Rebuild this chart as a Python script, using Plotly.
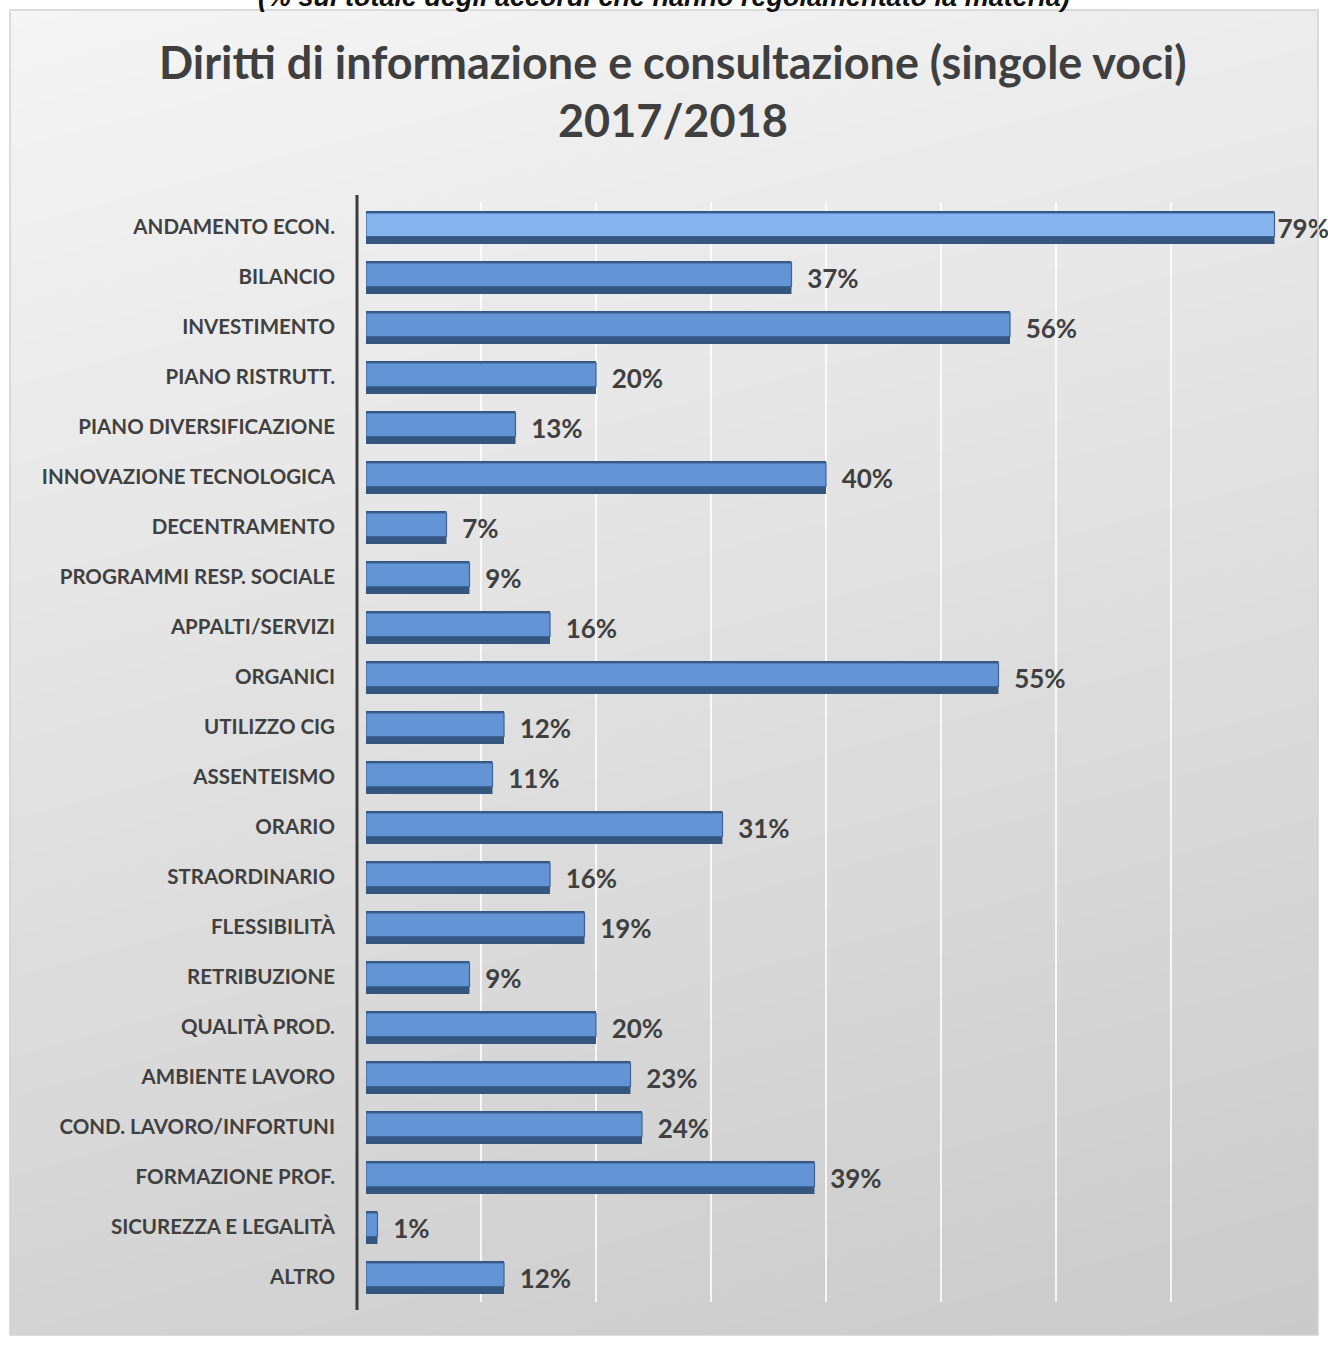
import plotly.graph_objects as go

# Voci dei diritti di informazione e consultazione, dall'alto verso il basso
categorie = [
    "ANDAMENTO ECON.", "BILANCIO", "INVESTIMENTO", "PIANO RISTRUTT.",
    "PIANO DIVERSIFICAZIONE", "INNOVAZIONE TECNOLOGICA", "DECENTRAMENTO",
    "PROGRAMMI RESP. SOCIALE", "APPALTI/SERVIZI", "ORGANICI", "UTILIZZO CIG",
    "ASSENTEISMO", "ORARIO", "STRAORDINARIO", "FLESSIBILITÀ", "RETRIBUZIONE",
    "QUALITÀ PROD.", "AMBIENTE LAVORO", "COND. LAVORO/INFORTUNI",
    "FORMAZIONE PROF.", "SICUREZZA E LEGALITÀ", "ALTRO",
]
# Percentuale sul totale degli accordi che hanno regolamentato la materia
percentuali = [79, 37, 56, 20, 13, 40, 7, 9, 16, 55, 12, 11, 31, 16, 19, 9,
               20, 23, 24, 39, 1, 12]

titolo_1 = "Diritti di informazione e consultazione (singole voci)"
titolo_2 = "2017/2018"
sottotitolo = "(% sul totale degli accordi che hanno regolamentato la materia)"

W, H = 1328, 1345
FONT = "Lato"
TXT = "#404040"


def px_x(p):
    return p / W


def px_y(p):
    return 1 - p / H


# Etichette dei valori: la barra più lunga ha l'etichetta accostata al bordo
massimo = max(percentuali)
etichette = [f"{v}%" if v == massimo else f"\u00a0\u00a0{v}%" for v in percentuali]

fig = go.Figure()

# Sfondo sfumato dell'area del grafico (heatmap sui primi assi, dietro alle barre)
fig.add_trace(go.Heatmap(
    z=[[0.22, 0.0], [1.0, 0.8]],
    x=[0, 1], y=[0, 1],
    colorscale=[[0, "#cacaca"], [1, "#f5f5f5"]],
    zsmooth="best", showscale=False, hoverinfo="skip",
    xaxis="x", yaxis="y",
))

# Colori delle facce frontali (prima barra più chiara)
facce = ["#86b4ee"] + ["#6394d5"] * (len(categorie) - 1)

# Base scura: dà l'effetto di spessore sotto e sopra la barra
fig.add_trace(go.Bar(
    x=percentuali, y=categorie, orientation="h",
    width=0.66, offset=-0.32,
    marker=dict(color="#35567f", line=dict(width=0)),
    text=etichette, textposition="outside",
    textfont=dict(family=FONT, size=26, color=TXT, weight="bold"),
    cliponaxis=False, hoverinfo="skip",
    xaxis="x2", yaxis="y2",
))

# Faccia frontale della barra
fig.add_trace(go.Bar(
    x=percentuali, y=categorie, orientation="h",
    width=0.47, offset=-0.28,
    marker=dict(color=facce, line=dict(width=1.2, color="#3c6399")),
    hovertemplate="%{y}: %{x}%<extra></extra>",
    xaxis="x2", yaxis="y2",
))

top_px, bot_px = 202, 1302
left_px, right_px = 366, 1286

fig.update_layout(
    width=W, height=H,
    margin=dict(l=0, r=0, t=0, b=0),
    paper_bgcolor="white",
    plot_bgcolor="rgba(0,0,0,0)",
    barmode="overlay",
    showlegend=False,
    font=dict(family=FONT, color=TXT),
    xaxis=dict(domain=[px_x(10), px_x(1318)], range=[0, 1],
               visible=False, fixedrange=True),
    yaxis=dict(domain=[px_y(1335), px_y(10)], range=[0, 1],
               visible=False, fixedrange=True),
    xaxis2=dict(domain=[px_x(left_px), px_x(right_px)], range=[0, 80],
                anchor="y2", dtick=10, showgrid=True,
                gridcolor="rgba(255,255,255,0.8)", gridwidth=1.5,
                showticklabels=False, zeroline=False, showline=False),
    yaxis2=dict(domain=[px_y(bot_px), px_y(top_px)], anchor="x2",
                autorange="reversed", type="category",
                showgrid=False, zeroline=False, showline=False,
                ticks="", ticklabelstandoff=30,
                tickfont=dict(family=FONT, size=20.5, color=TXT, weight="bold")),
    shapes=[
        # cornice dell'area del grafico
        dict(type="rect", xref="paper", yref="paper",
             x0=px_x(10), x1=px_x(1318), y0=px_y(1335), y1=px_y(10),
             line=dict(color="#d2d2d2", width=1.5), fillcolor="rgba(0,0,0,0)",
             layer="above"),
        # pavimento della parete 3D
        dict(type="rect", xref="paper", yref="paper",
             x0=px_x(358), x1=px_x(366), y0=px_y(1306), y1=px_y(198),
             line=dict(width=0), fillcolor="rgba(150,140,130,0.35)",
             layer="below"),
        # asse verticale
        dict(type="line", xref="paper", yref="paper",
             x0=px_x(357), x1=px_x(357), y0=px_y(1310), y1=px_y(195),
             line=dict(color="#3a3a3a", width=3)),
    ],
    annotations=[
        dict(text=f"<b><i>{sottotitolo}</i></b>", xref="paper", yref="paper",
             x=px_x(664), y=px_y(14), xanchor="center", yanchor="bottom",
             showarrow=False,
             font=dict(family="Liberation Sans", size=27, color="#111111")),
        dict(text=f"<b>{titolo_1}</b>", xref="paper", yref="paper",
             x=px_x(673), y=px_y(62), xanchor="center", yanchor="middle",
             showarrow=False, font=dict(family=FONT, size=45, color="#3f3f3f")),
        dict(text=f"<b>{titolo_2}</b>", xref="paper", yref="paper",
             x=px_x(673), y=px_y(120), xanchor="center", yanchor="middle",
             showarrow=False, font=dict(family=FONT, size=45, color="#3f3f3f")),
    ],
)

fig.write_html("out.html")
